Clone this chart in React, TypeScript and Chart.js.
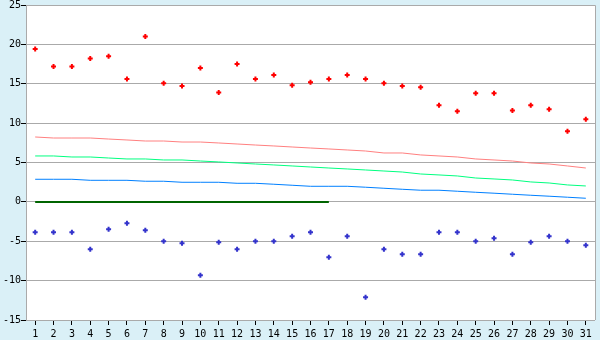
import React, { useEffect, useRef } from "react";
import { Chart, registerables } from "chart.js";

Chart.register(...registerables);

const categories = Array.from({ length: 31 }, (_, i) => String(i + 1));

const highPoints = [19.4, 17.2, 17.2, 18.2, 18.5, 15.6, 21.0, 15.05, 14.7, 17.0, 13.9, 17.5, 15.6, 16.1, 14.8, 15.2, 15.6, 16.1, 15.6, 15.05, 14.7, 14.55, 12.27, 11.5, 13.8, 13.8, 11.6, 12.27, 11.76, 8.96, 10.49];

const lowPoints = [-3.87, -3.87, -3.87, -6.0, -3.49, -2.72, -3.61, -5.0, -5.26, -9.33, -5.13, -6.0, -5.0, -5.0, -4.37, -3.87, -7.04, -4.37, -12.1, -6.0, -6.66, -6.66, -3.87, -3.87, -5.0, -4.63, -6.66, -5.13, -4.37, -5.0, -5.51];

const salmonLine = [8.24, 8.11, 8.11, 8.11, 7.98, 7.86, 7.73, 7.73, 7.6, 7.6, 7.48, 7.35, 7.22, 7.1, 6.97, 6.84, 6.72, 6.59, 6.46, 6.21, 6.21, 5.96, 5.83, 5.7, 5.45, 5.32, 5.19, 4.94, 4.81, 4.56, 4.3];

const greenLine = [5.83, 5.83, 5.7, 5.7, 5.57, 5.45, 5.45, 5.32, 5.32, 5.19, 5.07, 4.94, 4.81, 4.69, 4.56, 4.43, 4.3, 4.18, 4.05, 3.92, 3.79, 3.54, 3.42, 3.29, 3.03, 2.91, 2.78, 2.53, 2.4, 2.15, 2.02];

const blueLine = [2.87, 2.87, 2.87, 2.74, 2.74, 2.74, 2.62, 2.62, 2.49, 2.49, 2.49, 2.36, 2.36, 2.24, 2.11, 1.98, 1.98, 1.98, 1.86, 1.73, 1.6, 1.48, 1.48, 1.35, 1.22, 1.1, 0.97, 0.84, 0.72, 0.59, 0.46];

const zeroLine = [0, 0, 0, 0, 0, 0, 0, 0, 0, 0, 0, 0, 0, 0, 0, 0, 0, null, null, null, null, null, null, null, null, null, null, null, null, null, null];

const yMin = -15;
const yMax = 25;
const yStep = 5;

const PAGE_BG = "#daf0f7";
const FONT = { family: "'DejaVu Sans Mono', monospace", size: 10 };

const framePlugin = {
  id: "frame",
  beforeDraw(chart: any) {
    const { ctx, chartArea, width, height } = chart;
    ctx.save();
    ctx.fillStyle = PAGE_BG;
    ctx.fillRect(0, 0, width, height);
    ctx.fillStyle = "#ffffff";
    ctx.fillRect(chartArea.left, chartArea.top, chartArea.right - chartArea.left, chartArea.bottom - chartArea.top);
    ctx.restore();
  },
  afterDraw(chart: any) {
    const { ctx, chartArea } = chart;
    ctx.save();
    ctx.strokeStyle = "#aaaaaa";
    ctx.lineWidth = 1;
    ctx.beginPath();
    ctx.moveTo(chartArea.left, chartArea.top + 0.5);
    ctx.lineTo(chartArea.right + 0.5, chartArea.top + 0.5);
    ctx.lineTo(chartArea.right + 0.5, chartArea.bottom);
    ctx.stroke();
    ctx.restore();
  },
};

const lineDs = (data: (number | null)[], color: string, width = 1) => ({
  type: "line" as const,
  data,
  borderColor: color,
  backgroundColor: color,
  borderWidth: width,
  pointRadius: 0,
  tension: 0,
  fill: false,
  spanGaps: false,
});

const pointDs = (data: number[], color: string) => ({
  type: "line" as const,
  data,
  showLine: false,
  borderColor: color,
  backgroundColor: color,
  pointStyle: "cross",
  pointRadius: 2.5,
  pointBorderWidth: 2,
  pointHoverRadius: 2.5,
});

export default function App() {
  const ref = useRef<HTMLCanvasElement>(null);
  useEffect(() => {
    if (!ref.current) return;
    const chart = new Chart(ref.current, {
      type: "line",
      data: {
        labels: categories,
        datasets: [
          lineDs(salmonLine, "#ff8080"),
          lineDs(greenLine, "#00ff80"),
          lineDs(blueLine, "#0080ff"),
          lineDs(zeroLine, "#006400", 2),
          pointDs(highPoints, "#ff0000"),
          pointDs(lowPoints, "#3333cc"),
        ] as any,
      },
      options: {
        responsive: false,
        animation: false,
        events: [],
        layout: { padding: { left: 0, top: 5, right: 5, bottom: 0 } },
        plugins: { legend: { display: false }, tooltip: { enabled: false } },
        scales: {
          x: {
            type: "category",
            offset: true,
            grid: { drawOnChartArea: false, drawTicks: true, tickLength: 5, tickColor: "#000000", offset: false },
            border: { display: false },
            ticks: { color: "#000000", font: FONT, padding: 3, maxRotation: 0, autoSkip: false },
            afterFit(scale: any) {
              scale.height = 20;
              scale.paddingLeft = 0;
              scale.paddingRight = 0;
            },
          },
          y: {
            min: yMin,
            max: yMax,
            grid: { color: "#aaaaaa", tickLength: 5, tickColor: "#000000" },
            border: { display: true, color: "#aaaaaa" },
            ticks: { stepSize: yStep, color: "#000000", font: FONT, padding: 0 },
            afterFit(scale: any) {
              scale.width = 26;
              scale.paddingTop = 0;
              scale.paddingBottom = 0;
            },
          },
        },
      },
      plugins: [framePlugin],
    });
    return () => chart.destroy();
  }, []);
  return (
    <div style={{ position: "fixed", left: 0, top: 0, width: 600, height: 340, background: PAGE_BG }}>
      <canvas ref={ref} width={600} height={340} style={{ display: "block", width: 600, height: 340 }} />
    </div>
  );
}
